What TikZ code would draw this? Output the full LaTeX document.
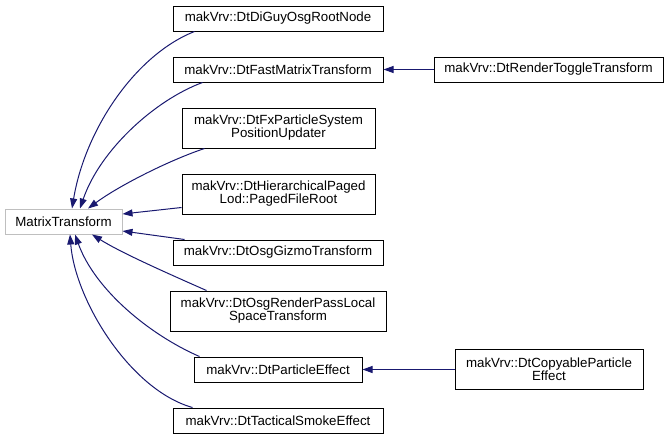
\documentclass[tikz,border=0pt]{standalone}
\usepackage{fontspec}
\setmainfont{Liberation Sans}
\usetikzlibrary{arrows.meta}
\definecolor{edgeblue}{HTML}{191970}
\definecolor{basegray}{HTML}{BFBFBF}

\begin{document}
\begin{tikzpicture}[x=1pt, y=-1pt, line width=1pt,
  font=\fontsize{13.3}{13}\selectfont,
  classbox/.style={draw=black, fill=white, inner sep=0pt, minimum height=25pt, align=center},
  twoline/.style={classbox, minimum height=40pt},
  basebox/.style={classbox, draw=basegray},
  inherit/.style={draw=edgeblue, -{Triangle[length=10pt,width=7pt]}, fill=none}
]
  \useasboundingbox (0,0) rectangle (669,439);

  % base class
  \node[basebox, minimum width=117pt] (mt) at (63.5,221.5) {MatrixTransform};

  % derived classes
  \node[classbox, minimum width=210pt] (diguy)  at (278,18.5)  {makVrv::DtDiGuyOsgRootNode};
  \node[classbox, minimum width=210pt] (fast)   at (278,69.5)  {makVrv::DtFastMatrixTransform};
  \node[twoline,  minimum width=193pt] (fx)     at (278.5,128) {makVrv::DtFxParticleSystem\\PositionUpdater};
  \node[twoline,  minimum width=193pt] (hier)   at (278.5,194) {makVrv::DtHierarchicalPaged\\Lod::PagedFileRoot};
  \node[classbox, minimum width=210pt] (gizmo)  at (278,252.5) {makVrv::DtOsgGizmoTransform};
  \node[twoline,  minimum width=216pt] (rpass)  at (278,311)   {makVrv::DtOsgRenderPassLocal\\SpaceTransform};
  \node[classbox, minimum width=168pt] (pfx)    at (278,369.5) {makVrv::DtParticleEffect};
  \node[classbox, minimum width=210pt] (smoke)  at (278,420.5) {makVrv::DtTacticalSmokeEffect};

  % second level
  \node[classbox, minimum width=229pt] (toggle) at (548.5,69.5) {makVrv::DtRenderToggleTransform};
  \node[twoline,  minimum width=188pt] (copy)   at (549,369.5)  {makVrv::DtCopyableParticle\\Effect};

  % edges into MatrixTransform
  \draw[inherit] ([xshift=22pt]diguy.south west) .. controls (135,55) and (85,130) .. ([xshift=8.5pt]mt.north);
  \draw[inherit] ([xshift=30pt]fast.south west) .. controls (155,100) and (100,150) .. ([xshift=16.5pt]mt.north);
  \draw[inherit] ([xshift=23pt]fx.south west) .. controls (170,160) and (120,185) .. ([xshift=24.5pt]mt.north);
  \draw[inherit] ([yshift=7pt]hier.south west) -- ([yshift=7.5pt]mt.east);
  \draw[inherit] ([xshift=12pt]gizmo.north west) -- ([yshift=-9.5pt]mt.east);
  \draw[inherit] ([xshift=37pt]rpass.north west) .. controls (160,270) and (120,252) .. ([xshift=28.5pt]mt.south);
  \draw[inherit] ([xshift=6pt]pfx.north west) .. controls (150,335) and (95,290) .. ([xshift=11.5pt]mt.south);
  \draw[inherit] ([xshift=20pt]smoke.north west) .. controls (130,390) and (75,300) .. ([xshift=6.5pt]mt.south);

  % edges into second level
  \draw[inherit] (toggle.west) -- (fast.east);
  \draw[inherit] (copy.west) -- (pfx.east);
\end{tikzpicture}
\end{document}
